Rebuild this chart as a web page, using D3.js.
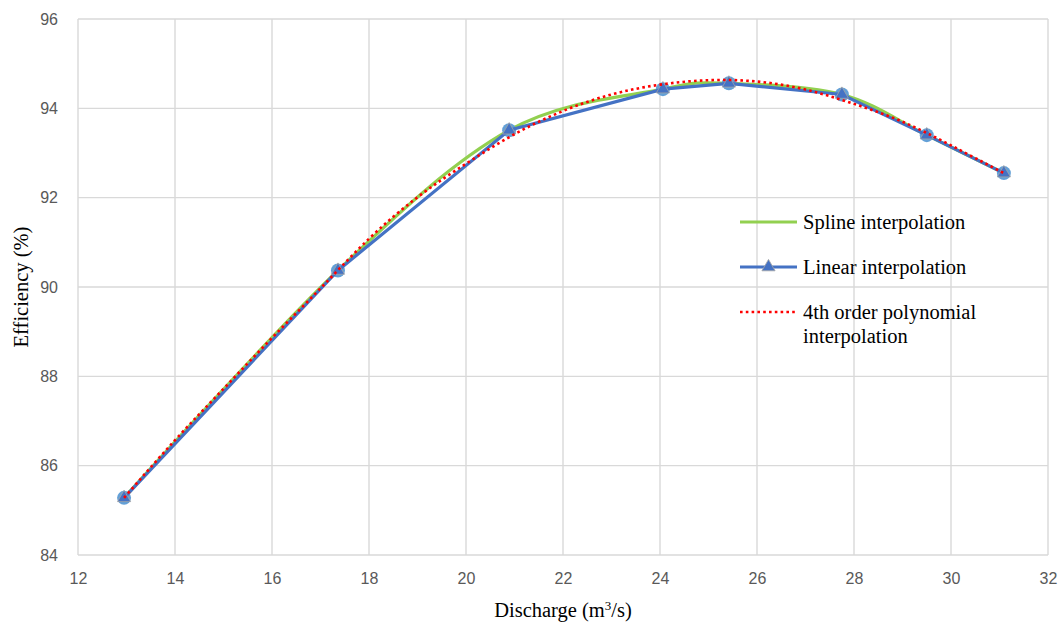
<!DOCTYPE html>
<html>
<head>
<meta charset="utf-8">
<script src="https://cdn.jsdelivr.net/npm/d3@7"></script>
<style>
  html, body { margin: 0; padding: 0; background: #fff; }
  svg { display: block; }
</style>
</head>
<body>
<svg id="chart" width="1062" height="624"></svg>
<script>
// Measured operating points: discharge (m³/s) and efficiency (%)
const discharge = [12.95, 17.36, 20.89, 24.06, 25.42, 27.75, 29.50, 31.09];
const efficiency = [85.28, 90.37, 93.51, 94.43, 94.56, 94.31, 93.40, 92.55];

// 4th order polynomial curve sampled along the discharge range
const polyX = [12.95, 14, 15, 16, 17, 18, 19, 20, 21, 22, 23, 24, 25, 26, 27, 28, 29, 30, 31.09];
const polyY = [85.28, 86.57, 87.72, 88.86, 89.97, 91.08, 92.01, 92.76, 93.42, 93.94, 94.31, 94.53, 94.63, 94.60, 94.42, 94.10, 93.70, 93.17, 92.55];

const xTicks = [12, 14, 16, 18, 20, 22, 24, 26, 28, 30, 32];
const yTicks = [84, 86, 88, 90, 92, 94, 96];

const legendLabels = [["Spline interpolation"], ["Linear interpolation"], ["4th order polynomial", "interpolation"]];

const W = 1062, H = 624;
const margin = { left: 78, right: 14, top: 19, bottom: 69 };

const svg = d3.select("#chart");
const x = d3.scaleLinear().domain([12, 32]).range([margin.left, W - margin.right]);
const y = d3.scaleLinear().domain([84, 96]).range([H - margin.bottom, margin.top]);

const gridColor = "#d9d9d9";
const tickFont = "'Liberation Sans', Arial, sans-serif";
const serif = "'Liberation Serif', 'Times New Roman', serif";
const serifSize = "20.5px";

// Gridlines
const grid = svg.append("g");
grid.selectAll("line.v").data(xTicks).join("line")
  .attr("x1", d => x(d)).attr("x2", d => x(d))
  .attr("y1", y(84)).attr("y2", y(96))
  .attr("stroke", gridColor).attr("stroke-width", 1.4);
grid.selectAll("line.h").data(yTicks).join("line")
  .attr("x1", x(12)).attr("x2", x(32))
  .attr("y1", d => y(d)).attr("y2", d => y(d))
  .attr("stroke", gridColor).attr("stroke-width", 1.4);

// Axes (labels only, grid provides the lines)
const xAxis = d3.axisBottom(x).tickValues(xTicks).tickSize(0).tickPadding(18);
const yAxis = d3.axisLeft(y).tickValues(yTicks).tickSize(0).tickPadding(20);

const gx = svg.append("g").attr("transform", `translate(0,${y(84)})`).call(xAxis);
const gy = svg.append("g").attr("transform", `translate(${x(12)},0)`).call(yAxis);
[gx, gy].forEach(g => {
  g.select(".domain").remove();
  g.selectAll("text").attr("fill", "#595959").style("font-family", tickFont).style("font-size", "16px");
});

// Axis titles
svg.append("text")
  .attr("x", (x(12) + x(32)) / 2).attr("y", 617)
  .attr("text-anchor", "middle")
  .style("font-family", serif).style("font-size", serifSize).attr("fill", "#000")
  .html("Discharge (m<tspan dy='-7' font-size='13px'>3</tspan><tspan dy='7'>/s)</tspan>");

svg.append("text")
  .attr("transform", `translate(28,${(y(84) + y(96)) / 2}) rotate(-90)`)
  .attr("text-anchor", "middle")
  .style("font-family", serif).style("font-size", serifSize).attr("fill", "#000")
  .text("Efficiency (%)");

const pts = discharge.map((d, i) => [d, efficiency[i]]);
const polyPts = polyX.map((d, i) => [d, polyY[i]]);

const green = "#92d050", blue = "#4472c4", red = "#ff0000", lightBlue = "#5b9bd5";

// Spline interpolation
svg.append("path")
  .datum(pts)
  .attr("d", d3.line().x(d => x(d[0])).y(d => y(d[1])).curve(d3.curveCardinal.tension(0)))
  .attr("fill", "none").attr("stroke", green).attr("stroke-width", 3.2);

// Point markers behind the linear series
svg.selectAll("circle.pt").data(pts).join("circle")
  .attr("cx", d => x(d[0])).attr("cy", d => y(d[1])).attr("r", 7)
  .attr("fill", lightBlue).attr("opacity", 0.95);

// Linear interpolation
svg.append("path")
  .datum(pts)
  .attr("d", d3.line().x(d => x(d[0])).y(d => y(d[1])))
  .attr("fill", "none").attr("stroke", blue).attr("stroke-width", 3.2);

const tri = d3.symbol().type(d3.symbolTriangle).size(75);
svg.selectAll("path.tri").data(pts).join("path")
  .attr("transform", d => `translate(${x(d[0])},${y(d[1])})`)
  .attr("d", tri)
  .attr("fill", blue).attr("stroke", "#a5a5a5").attr("stroke-width", 0.8);

// 4th order polynomial
svg.append("path")
  .datum(polyPts)
  .attr("d", d3.line().x(d => x(d[0])).y(d => y(d[1])).curve(d3.curveNatural))
  .attr("fill", "none").attr("stroke", red).attr("stroke-width", 2.6)
  .attr("stroke-dasharray", "2.6 3.2");

// Legend
const lg = svg.append("g");
const legendRows = [222, 267, 312];
const sx0 = 740, sx1 = 797, tx = 803;
lg.append("line").attr("x1", sx0).attr("x2", sx1).attr("y1", legendRows[0]).attr("y2", legendRows[0])
  .attr("stroke", green).attr("stroke-width", 3.2);
lg.append("line").attr("x1", sx0).attr("x2", sx1).attr("y1", legendRows[1]).attr("y2", legendRows[1])
  .attr("stroke", blue).attr("stroke-width", 3.2);
lg.append("path").attr("transform", `translate(${(sx0 + sx1) / 2},${legendRows[1]})`)
  .attr("d", tri).attr("fill", blue).attr("stroke", "#a5a5a5").attr("stroke-width", 0.8);
lg.append("line").attr("x1", sx0).attr("x2", sx1).attr("y1", legendRows[2]).attr("y2", legendRows[2])
  .attr("stroke", red).attr("stroke-width", 2.6).attr("stroke-dasharray", "2.6 3.2");

legendLabels.forEach((lines, i) => {
  const t = lg.append("text")
    .attr("x", tx).attr("y", legendRows[i] + 7)
    .style("font-family", serif).style("font-size", serifSize).attr("fill", "#000");
  lines.forEach((s, j) => {
    t.append("tspan").attr("x", tx).attr("dy", j === 0 ? 0 : 24).text(s);
  });
});
</script>
</body>
</html>
